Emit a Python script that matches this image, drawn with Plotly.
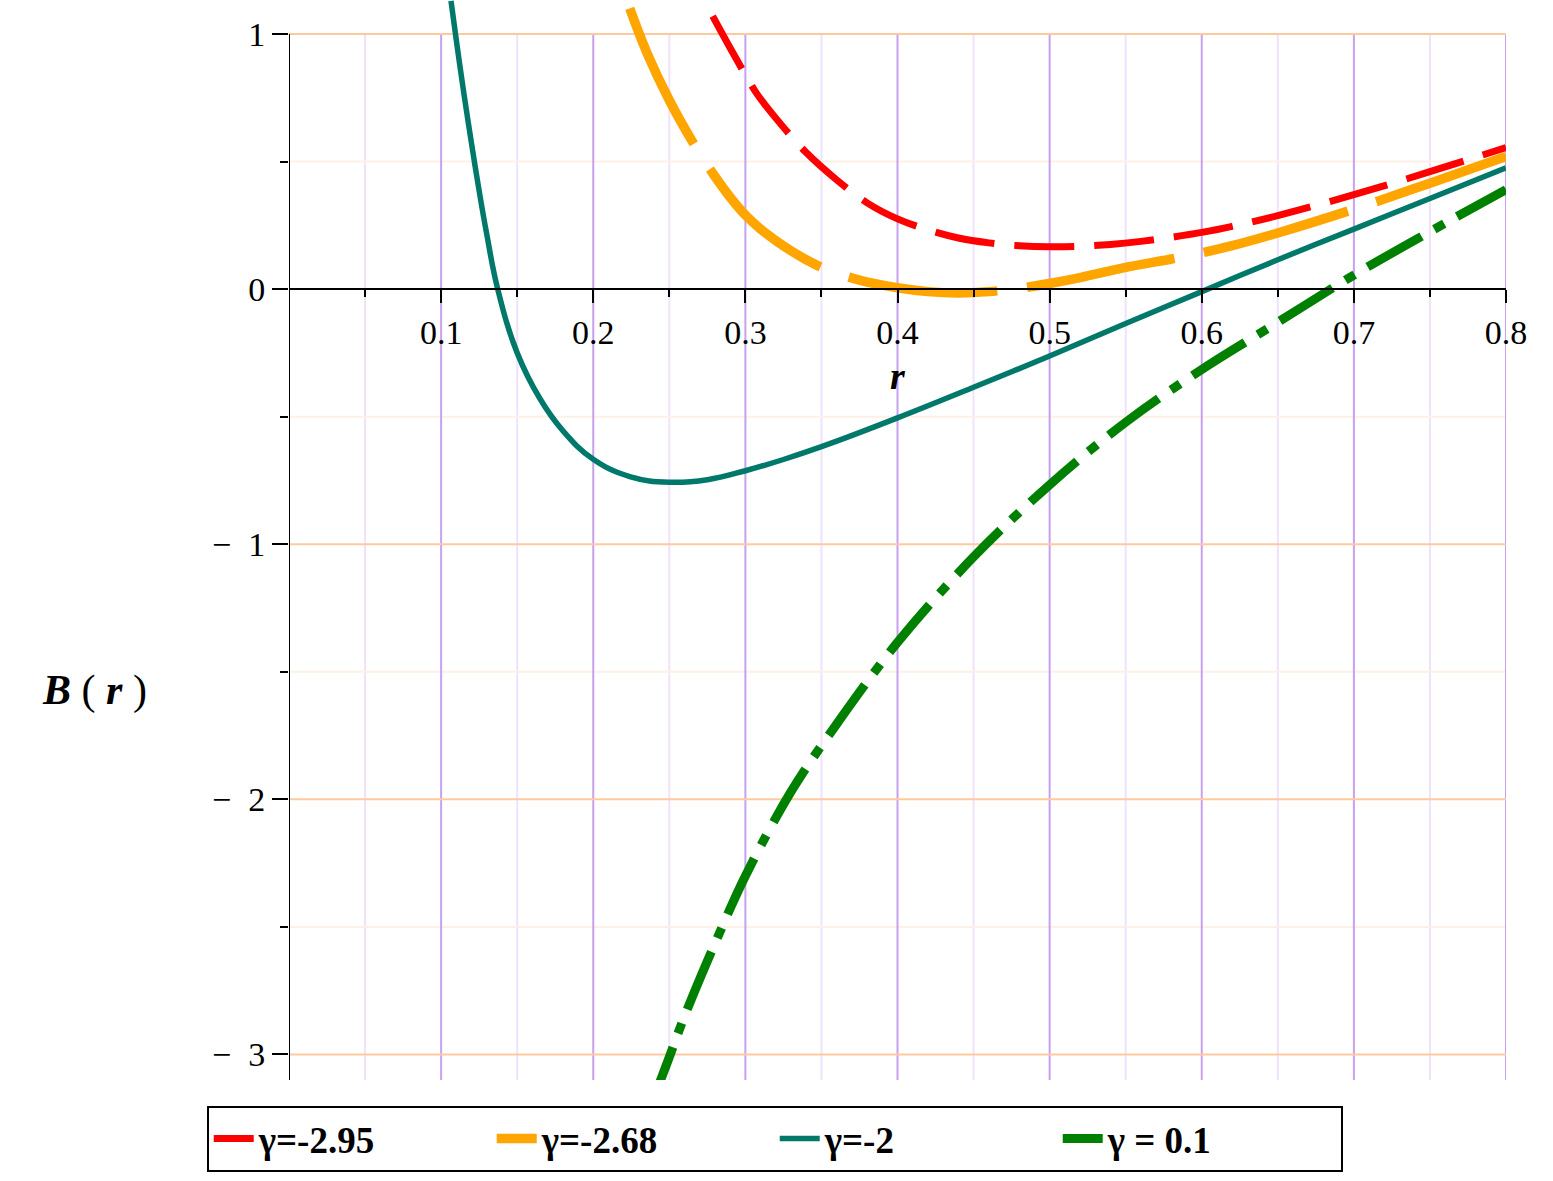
import plotly.graph_objects as go

# ---------------- data ----------------
r_red = [0.2785, 0.29, 0.30, 0.3076, 0.32, 0.34, 0.36, 0.38, 0.40, 0.42, 0.44, 0.46,
         0.48, 0.50, 0.52, 0.54, 0.56, 0.58, 0.60, 0.62, 0.65, 0.70, 0.75, 0.80]
B_red = [1.07, 0.945, 0.84, 0.765, 0.67, 0.535, 0.428, 0.338, 0.275, 0.232, 0.20, 0.181,
         0.17, 0.166, 0.168, 0.175, 0.187, 0.203, 0.222, 0.246, 0.288, 0.37, 0.46, 0.555]

r_orange = [0.224, 0.235, 0.25, 0.267, 0.279, 0.29, 0.30, 0.31, 0.32, 0.33, 0.34, 0.354,
            0.375, 0.40, 0.42, 0.44, 0.46, 0.48, 0.50, 0.52, 0.55, 0.58, 0.60, 0.62, 0.65,
            0.70, 0.75, 0.80]
B_orange = [1.10, 0.93, 0.74, 0.56, 0.45, 0.36, 0.29, 0.235, 0.19, 0.15, 0.115, 0.075,
            0.035, 0.005, -0.01, -0.015, -0.01, 0.003, 0.022, 0.045, 0.085, 0.118, 0.142,
            0.17, 0.22, 0.313, 0.415, 0.52]

r_teal = [0.1065, 0.11, 0.115, 0.12, 0.125, 0.13, 0.1372, 0.15, 0.165, 0.18, 0.20,
          0.224, 0.25, 0.275, 0.30, 0.325, 0.356, 0.40, 0.45, 0.50, 0.55, 0.60, 0.65,
          0.70, 0.75, 0.80]
B_teal = [1.13, 0.975, 0.765, 0.57, 0.385, 0.215, 0.0, -0.25, -0.43, -0.555, -0.667,
          -0.735, -0.757, -0.747, -0.712, -0.668, -0.605, -0.505, -0.385, -0.262, -0.135,
          -0.01, 0.115, 0.235, 0.355, 0.475]

r_green = [0.238, 0.25, 0.26, 0.28, 0.30, 0.33, 0.36, 0.40, 0.45, 0.50, 0.55, 0.60, 0.65,
           0.70, 0.75, 0.80]
B_green = [-3.20, -3.01, -2.85, -2.565, -2.30, -1.97, -1.705, -1.385, -1.05, -0.767,
           -0.522, -0.315, -0.13, 0.055, 0.225, 0.39]

series_names = ["γ=-2.95", "γ=-2.68", "γ=-2", "γ = 0.1"]

# axis / tick definitions
X_RANGE = [0.0, 0.8]
Y_RANGE = [-3.1, 1.133]
Y_AXIS_TOP = 1.0
x_major = [0.1, 0.2, 0.3, 0.4, 0.5, 0.6, 0.7, 0.8]
x_minor = [0.05, 0.15, 0.25, 0.35, 0.45, 0.55, 0.65, 0.75]
x_ticktext = ["0.1", "0.2", "0.3", "0.4", "0.5", "0.6", "0.7", "0.8"]
y_major = [-3, -2, -1, 0, 1]
y_minor = [-2.5, -1.5, -0.5, 0.5]
y_ticktext = ["−\u00a0\u00a03", "−\u00a0\u00a02", "−\u00a0\u00a01", "0", "1"]

# ---------------- styles ----------------
FONT = "Liberation Serif"
C_RED, C_ORANGE, C_TEAL, C_GREEN = "#FF0000", "#FFA500", "#00786A", "#008000"
GRID_V_MAJOR, GRID_V_MINOR = "#C8A0F0", "#F0E2FA"
GRID_H_MAJOR, GRID_H_MINOR = "#FFC9A0", "#FDF0E6"

fig = go.Figure()
fig.add_trace(go.Scatter(x=r_red, y=B_red, mode="lines", name=series_names[0],
                         line=dict(color=C_RED, width=7, dash="60px,20px", shape="spline")))
fig.add_trace(go.Scatter(x=r_orange, y=B_orange, mode="lines", name=series_names[1],
                         line=dict(color=C_ORANGE, width=9.5, dash="150px,30px", shape="spline")))
fig.add_trace(go.Scatter(x=r_teal, y=B_teal, mode="lines", name=series_names[2],
                         line=dict(color=C_TEAL, width=5.5, shape="spline", smoothing=1.2)))
fig.add_trace(go.Scatter(x=r_green, y=B_green, mode="lines", name=series_names[3],
                         line=dict(color=C_GREEN, width=9, dash="62px,15px,11px,15px", shape="spline")))

shapes = []
for xv in x_minor:
    shapes.append(dict(type="line", xref="x", yref="y", x0=xv, x1=xv, y0=Y_RANGE[0], y1=Y_AXIS_TOP,
                       line=dict(color=GRID_V_MINOR, width=2), layer="below"))
for yv in y_minor:
    shapes.append(dict(type="line", xref="x", yref="y", x0=X_RANGE[0], x1=X_RANGE[1], y0=yv, y1=yv,
                       line=dict(color=GRID_H_MINOR, width=2), layer="below"))
for xv in x_major:
    shapes.append(dict(type="line", xref="x", yref="y", x0=xv, x1=xv, y0=Y_RANGE[0], y1=Y_AXIS_TOP,
                       line=dict(color=GRID_V_MAJOR, width=2), layer="below"))
for yv in y_major:
    shapes.append(dict(type="line", xref="x", yref="y", x0=X_RANGE[0], x1=X_RANGE[1], y0=yv, y1=yv,
                       line=dict(color=GRID_H_MAJOR, width=2), layer="below"))
# vertical axis line (stops at y = 1 like the reference)
shapes.append(dict(type="line", xref="x", yref="y", x0=0, x1=0, y0=Y_RANGE[0], y1=Y_AXIS_TOP,
                   line=dict(color="black", width=2), layer="above"))

zero_pos = (0 - Y_RANGE[0]) / (Y_RANGE[1] - Y_RANGE[0])

fig.update_layout(
    width=1553, height=1181,
    margin=dict(l=289, r=47, t=0, b=101),
    paper_bgcolor="white", plot_bgcolor="white",
    font=dict(family=FONT, color="black", size=34),
    shapes=shapes,
    showlegend=True,
    legend=dict(orientation="h", x=-0.0676, y=-0.024, xanchor="left", yanchor="top",
                bordercolor="black", borderwidth=2, bgcolor="white",
                font=dict(family=FONT, size=37, weight="bold"),
                entrywidth=228, itemwidth=40, tracegroupgap=0),
    xaxis=dict(range=X_RANGE, anchor="free", position=zero_pos,
               showline=True, linecolor="black", linewidth=2,
               showgrid=False, zeroline=False,
               tickmode="array", tickvals=x_major, ticktext=x_ticktext,
               ticks="outside", ticklen=13, tickwidth=2, tickcolor="black",
               tickfont=dict(family=FONT, size=34),
               minor=dict(tickvals=x_minor, ticks="outside", ticklen=7, tickwidth=2,
                          tickcolor="black", showgrid=False),
               title=dict(text="<b><i>r</i></b>", font=dict(family=FONT, size=38), standoff=12)),
    yaxis=dict(range=Y_RANGE, showline=False, showgrid=False, zeroline=False,
               tickmode="array", tickvals=y_major, ticktext=y_ticktext,
               ticks="outside", ticklen=16, tickwidth=2, tickcolor="black",
               tickfont=dict(family=FONT, size=34),
               minor=dict(tickvals=y_minor, ticks="outside", ticklen=8, tickwidth=2,
                          tickcolor="black", showgrid=False)),
    annotations=[dict(text="<b><i>B</i></b> ( <b><i>r</i></b> )", xref="paper", yref="paper",
                      x=-0.16, y=0.361, showarrow=False, xanchor="center", yanchor="middle",
                      font=dict(family=FONT, size=42))],
)

fig.write_html("out.html", config={"displayModeBar": False},
               post_script="document.body.style.margin='0';")
